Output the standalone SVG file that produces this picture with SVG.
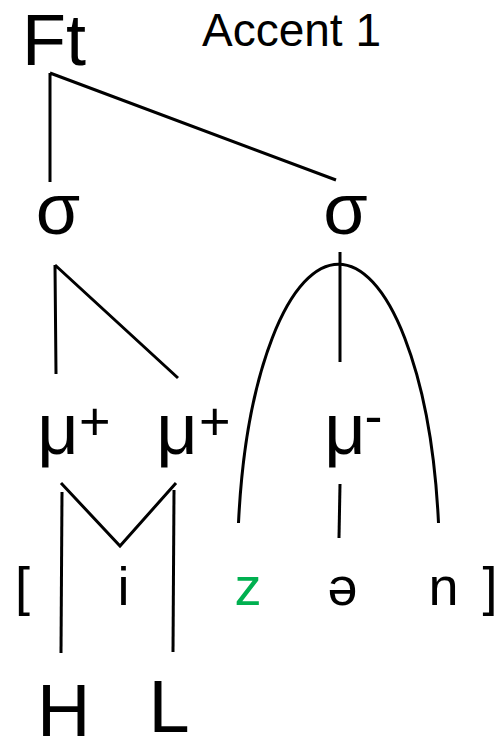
<svg xmlns="http://www.w3.org/2000/svg" width="501" height="740" viewBox="0 0 501 740">
  <style>
    text { font-family: "Liberation Sans", Arial, sans-serif; fill: #000; }
    .big { font-size: 72px; text-anchor: middle; }
    .sup { font-size: 54px; }
    .seg { font-size: 54px; text-anchor: middle; }
    .tone { font-size: 74px; }
    .link { fill: none; stroke: #000; stroke-width: 3; }
  </style>
  <rect width="501" height="740" fill="#fff"/>

  <!-- association lines -->
  <g id="connectors" class="link">
    <path d="M50 73 L50 182 M50 73 L336 180"/>
    <path d="M55 265 L56 374 M55 265 L178 378"/>
    <path d="M340 252 L340 362"/>
    <path d="M238.5 523 A101 301 0 0 1 438.5 523"/>
    <path d="M61 483 L120 546 L176 483"/>
    <path d="M62 492 L61 653"/>
    <path d="M174 490 L173 652"/>
    <path d="M340 484 L339 538"/>
  </g>

  <g id="foot"><text x="22" y="65" style="font-size:72px">Ft</text></g>
  <g id="title"><text x="202" y="46" style="font-size:46px">Accent 1</text></g>

  <g id="syl1"><text class="big" x="58" y="234">σ</text></g>
  <g id="syl2"><text class="big" x="345.5" y="234">σ</text></g>

  <g id="mora1"><text class="big" x="58" y="454">μ</text><text class="sup" x="79" y="440">+</text></g>
  <g id="mora2"><text class="big" x="177" y="454">μ</text><text class="sup" x="199" y="440">+</text></g>
  <g id="mora3"><text class="big" x="345" y="454">μ</text><text class="sup" x="364.5" y="434">-</text></g>

  <g id="segments">
    <text class="seg" x="22.5" y="605">[</text>
    <text class="seg" x="123.5" y="605">i</text>
    <text class="seg" x="248" y="605" style="fill:#00b050">z</text>
    <text class="seg" x="342.5" y="605">ə</text>
    <text class="seg" x="443.5" y="605">n</text>
    <text class="seg" x="490" y="605">]</text>
  </g>

  <g id="toneH"><text class="tone" x="37" y="736">H</text></g>
  <g id="toneL"><text class="tone" x="148.6" y="732">L</text></g>
</svg>
